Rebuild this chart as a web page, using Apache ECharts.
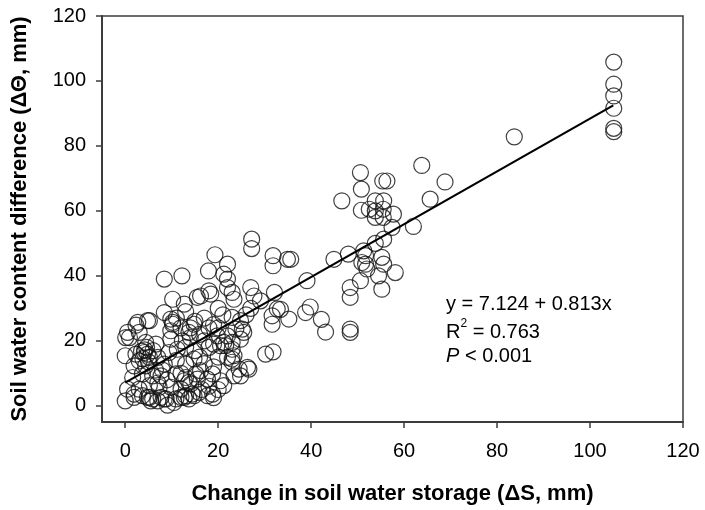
<!DOCTYPE html>
<html>
<head>
<meta charset="utf-8">
<script src="https://cdn.jsdelivr.net/npm/echarts@6/dist/echarts.min.js"></script>
<style>
  html, body { margin: 0; padding: 0; background: #fff; }
  #chart { width: 705px; height: 510px; }
</style>
</head>
<body>
<div id="chart"></div>
<script>
// Change in soil water storage (ΔS, mm)
const storageChange = [
  105.1, 105.1, 105.1, 105.1, 105.1, 105.1,
  83.7, 63.8, 68.8, 65.6, 62.0,
  50.6, 50.8, 55.4, 56.3, 46.6, 50.8, 52.5, 53.8, 55.6, 53.8, 55.5, 57.7, 53.8, 55.5, 57.4, 55.6, 53.8,
  48.0, 44.9, 51.3, 51.7, 50.9, 51.7, 55.2, 55.6, 52.0, 58.1, 54.5, 50.6, 55.2, 48.4, 48.4, 39.1, 35.6, 39.8,
  42.2, 43.1, 48.4, 48.4,
  27.2, 27.2, 31.8, 31.8, 34.9, 19.3, 22.0, 17.9, 21.2, 22.0, 22.0, 23.0, 27.0, 32.1, 18.0, 18.4, 16.2, 15.5,
  8.4, 12.2, 23.4, 27.7, 29.1, 33.4, 35.2, 31.6, 31.6, 32.7, 30.2, 31.8, 38.8, 26.6, 24.8, 23.0, 23.0, 23.0,
  21.2, 23.0, 24.8, 23.8, 25.5, 21.6, 23.4, 23.0, 26.3, 25.2, 24.8, 22.0, 20.5, 22.0, 19.8, 10.2, 12.7, 24.5,
  23.4, 21.2, 20.5, 18.8, 17.7, 27.0, 26.0, 20.0, 21.0, 19.0, 17.0, 16.0, 18.0, 15.0, 14.0, 20.0,
  8.4, 2.7, 5.2, 10.2, 14.8, 0.5, 0.9, 3.0, 4.4, 6.6, 9.8, 9.8, 13.7, 12.3, 0.0, 2.3, 4.1, 4.8, 5.2, 3.0,
  7.0, 9.4, 11.2, 1.9, 4.4, 8.4, 13.0, 14.8, 1.6, 3.7, 5.9, 7.7, 10.9, 13.0, 15.2, 14.1, 0.5, 3.0, 5.2, 7.3,
  9.8, 12.0, 1.9, 5.2, 5.5, 5.9, 8.4, 10.5, 12.7, 14.8, 0.0,
  1.9, 3.7, 4.8, 7.0, 7.7, 8.8, 9.1, 10.9, 12.0, 13.0, 14.4, 13.7, 15.9, 17.7, 18.8, 16.2, 15.5, 13.7, 12.7,
  4.8, 2.3, 0.1, 9.8, 10.2,
  3.8, 4.2, 5.0, 3.5, 4.6, 6.0,
  16.0, 17.0, 18.0, 19.0, 20.0, 17.0, 15.0, 19.0,
  11.0, 12.0, 13.0, 14.0, 11.0, 13.0, 12.0,
  7.0, 8.0, 9.0, 6.5,
  16.5, 19.0, 20.0, 18.0
];

// Soil water content difference (ΔΘ, mm)
const contentDiff = [
  105.8, 99.0, 95.4, 91.6, 85.4, 84.4,
  82.8, 74.0, 68.9, 63.6, 55.2,
  71.8, 66.7, 69.2, 69.2, 63.1, 60.2, 60.5, 63.1, 63.1, 60.0, 60.5, 59.0, 58.0, 58.0, 54.9, 51.3, 50.0,
  46.7, 45.1, 47.7, 46.2, 44.1, 43.6, 45.7, 43.6, 42.1, 41.0, 40.0, 38.5, 35.9, 36.4, 33.4, 38.5, 45.1, 30.4,
  26.6, 22.7, 23.6, 22.6,
  51.3, 48.4, 46.2, 43.1, 45.1, 46.5, 43.6, 41.5, 40.5, 39.0, 36.4, 34.9, 36.4, 34.9, 35.4, 34.4, 33.8, 33.4,
  39.0, 40.0, 32.8, 33.8, 32.3, 29.7, 26.7, 25.1, 27.7, 29.8, 15.9, 16.6, 28.7, 11.3, 9.2, 14.4, 17.4, 19.5,
  19.5, 27.2, 26.2, 23.6, 22.6, 18.5, 15.4, 13.4, 11.8, 23.6, 20.5, 14.9, 18.5, 21.5, 21.5, 32.8, 31.3, 11.3,
  9.2, 6.2, 7.7, 9.8, 8.2, 30.0, 28.0, 30.0, 28.0, 25.0, 27.0, 22.0, 24.0, 26.0, 24.0, 24.0,
  28.7, 25.7, 26.2, 25.7, 25.1, 22.6, 21.0, 22.6, 19.5, 19.0, 23.1, 20.5, 22.6, 20.0, 15.4, 15.9, 16.4, 15.9, 14.9, 13.8,
  14.9, 16.4, 17.4, 12.3, 12.3, 12.8, 12.8, 14.4, 8.7, 9.8, 9.2, 9.2, 9.8, 8.7, 9.8, 6.7, 5.1, 5.1, 6.2, 5.7,
  5.7, 5.1, 2.6, 2.6, 1.5, 2.1, 2.1, 1.0, 2.6, 3.1, 1.5,
  3.6, 3.1, 2.6, 1.5, 2.6, 2.1, 0.2, 2.1, 2.6, 3.1, 3.6, 2.1, 4.1, 3.1, 3.6, 10.8, 8.2, 7.2, 7.7,
  26.2, 24.8, 21.0, 26.7, 25.1,
  14.5, 17.2, 13.5, 16.8, 18.0, 17.0,
  15.0, 13.0, 18.0, 12.0, 15.0, 20.0, 17.0, 19.0,
  14.0, 10.0, 18.0, 21.0, 27.0, 29.0, 24.0,
  7.0, 11.0, 8.0, 11.0,
  5.0, 2.5, 5.0, 6.0
];

// Axis ticks and fitted regression (y = intercept + slope · x)
const xTicks = [0, 20, 40, 60, 80, 100, 120];
const yTicks = [0, 20, 40, 60, 80, 100, 120];
const intercept = 7.124;
const slope = 0.813;
const fitRange = [0, 105];
const statLines = ['y = 7.124 + 0.813x', 'R2 = 0.763', 'P < 0.001'];

const FONT = 'Arial, "Liberation Sans", sans-serif';
const AXIS_COLOR = '#3c3c3c';

const points = storageChange.map((x, i) => [x, contentDiff[i]]);
const fitLine = fitRange.map(x => [x, intercept + slope * x]);

const chart = echarts.init(document.getElementById('chart'), null, { renderer: 'canvas' });

chart.setOption({
  backgroundColor: '#ffffff',
  animation: false,
  grid: {
    left: 102, right: 22, top: 16, bottom: 87,
    show: true,
    borderColor: AXIS_COLOR,
    borderWidth: 1.5,
    backgroundColor: 'transparent'
  },
  xAxis: {
    type: 'value',
    min: -5, max: 120,
    name: 'Change in soil water storage (ΔS, mm)',
    nameLocation: 'middle',
    nameGap: 61,
    nameTextStyle: { fontFamily: FONT, fontSize: 22, fontWeight: 'bold', color: '#000' },
    axisLine: { show: true, onZero: false, lineStyle: { color: AXIS_COLOR, width: 2 } },
    axisTick: { show: true, inside: false, length: 6, customValues: xTicks, lineStyle: { color: AXIS_COLOR, width: 1.5 } },
    axisLabel: { customValues: xTicks, margin: 19, fontFamily: FONT, fontSize: 20, color: '#000' },
    splitLine: { show: false }
  },
  yAxis: {
    type: 'value',
    min: -5, max: 120,
    name: 'Soil water content difference (ΔΘ, mm)',
    nameLocation: 'middle',
    nameGap: 71,
    nameRotate: 90,
    nameTextStyle: { fontFamily: FONT, fontSize: 22, fontWeight: 'bold', color: '#000' },
    axisLine: { show: true, onZero: false, lineStyle: { color: AXIS_COLOR, width: 2 } },
    axisTick: { show: true, inside: false, length: 6, customValues: yTicks, lineStyle: { color: AXIS_COLOR, width: 1.5 } },
    axisLabel: { customValues: yTicks, margin: 16, fontFamily: FONT, fontSize: 20, color: '#000' },
    splitLine: { show: false }
  },
  series: [
    {
      type: 'scatter',
      data: points,
      symbol: 'circle',
      symbolSize: 16,
      itemStyle: { color: 'rgba(0,0,0,0)', borderColor: '#111', borderWidth: 1.2 },
      emphasis: { disabled: true }
    },
    {
      type: 'line',
      data: fitLine,
      symbol: 'none',
      lineStyle: { color: '#000', width: 2.2 },
      z: 3
    }
  ],
  graphic: [
    {
      type: 'text', left: 446, top: 294,
      style: { text: statLines[0], font: '20px ' + FONT, fill: '#000' }
    },
    {
      type: 'text', left: 446, top: 318,
      style: {
        text: '{t|R}{s|2}{t| = 0.763}',
        rich: {
          t: { fontFamily: FONT, fontSize: 20, color: '#000', lineHeight: 24, verticalAlign: 'bottom' },
          s: { fontFamily: FONT, fontSize: 12, color: '#000', lineHeight: 24, verticalAlign: 'top' }
        }
      }
    },
    {
      type: 'text', left: 446, top: 346,
      style: {
        text: '{i|P}{t| < 0.001}',
        rich: {
          i: { fontFamily: FONT, fontSize: 20, fontStyle: 'italic', color: '#000' },
          t: { fontFamily: FONT, fontSize: 20, color: '#000' }
        }
      }
    }
  ]
});
</script>
</body>
</html>
